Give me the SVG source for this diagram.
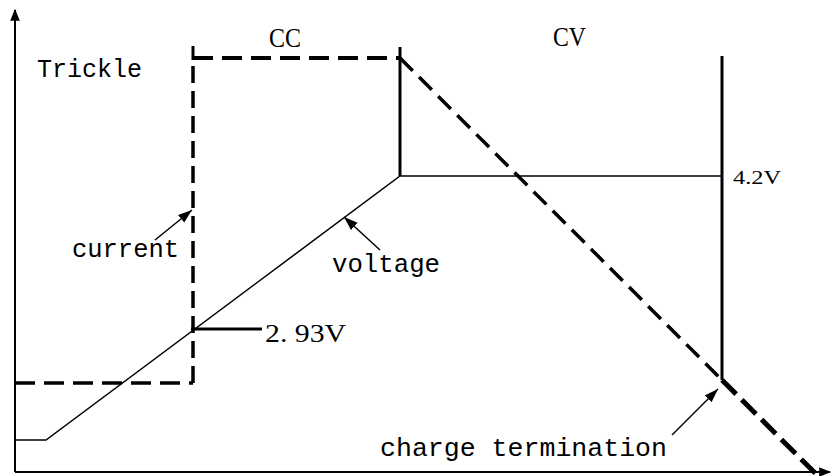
<svg xmlns="http://www.w3.org/2000/svg" width="833" height="476" viewBox="0 0 833 476">
<style>
.axis{stroke:#000;stroke-width:2;fill:none}
.solid{stroke:#000;stroke-width:3;fill:none}
.thin{stroke:#000;stroke-width:1.5;fill:none}
.dash{stroke:#000;stroke-width:3.5;fill:none;stroke-dasharray:20 9}
.mono{font-family:"Liberation Mono","DejaVu Sans Mono",monospace;font-size:25px;fill:#000}
.serif{font-family:"Liberation Serif","DejaVu Serif",serif;fill:#000}
</style>
<defs>
<marker id="ah" viewBox="0 0 10 10" refX="9" refY="5" markerWidth="12" markerHeight="12" orient="auto" markerUnits="userSpaceOnUse">
<path d="M0,1 L10,5 L0,9 Z" fill="#000"/>
</marker>
<marker id="ptr" viewBox="0 0 10 10" refX="10" refY="5" markerWidth="14" markerHeight="14" orient="auto" markerUnits="userSpaceOnUse">
<path d="M0,1.5 L10,5 L0,8.5 Z" fill="#000"/>
</marker>
</defs>
<g id="axes">
<line class="axis" x1="15" y1="472" x2="15" y2="10" marker-end="url(#ah)"/>
<line class="axis" x1="15" y1="472" x2="830" y2="472" marker-end="url(#ah)"/>
</g>
<g id="current-curve">
<line class="dash" x1="15" y1="383" x2="193" y2="383"/>
<line class="dash" x1="193" y1="383" x2="193" y2="58" style="stroke-dasharray:17 8"/>
<line class="solid" x1="193" y1="46" x2="193" y2="60"/>
<line class="dash" x1="193" y1="58" x2="400" y2="58" style="stroke-width:4"/>
<line class="solid" x1="400" y1="47" x2="400" y2="176"/>
<line class="dash" x1="400" y1="58" x2="722" y2="380" style="stroke-width:3.5;stroke-dasharray:18 9"/>
<line class="dash" x1="722" y1="380" x2="816" y2="474" style="stroke-width:5;stroke-dasharray:20 8"/>
</g>
<g id="voltage-curve">
<polyline class="thin" points="15,440 46,440 400,176 722,176"/>
<line class="solid" x1="722" y1="56" x2="722" y2="380"/>
<line class="solid" x1="191" y1="329" x2="262" y2="329"/>
</g>
<g id="labels">
<text class="mono" x="37" y="77">Trickle</text>
<text class="serif" x="269" y="47" font-size="27" textLength="32" lengthAdjust="spacingAndGlyphs">CC</text>
<text class="serif" x="553" y="46" font-size="27" textLength="33" lengthAdjust="spacingAndGlyphs">CV</text>
<text class="serif" x="733" y="184" font-size="19" textLength="48" lengthAdjust="spacingAndGlyphs">4.2V</text>
<text class="serif" x="265" y="342" font-size="26" textLength="81" lengthAdjust="spacingAndGlyphs">2. 93V</text>
<text class="mono" x="72" y="257" textLength="107" lengthAdjust="spacingAndGlyphs">current</text>
<text class="mono" x="332" y="272" textLength="108" lengthAdjust="spacingAndGlyphs">voltage</text>
<text class="mono" x="380" y="456" textLength="287" lengthAdjust="spacingAndGlyphs">charge termination</text>
</g>
<g id="connectors">
<line class="thin" x1="155" y1="240" x2="192" y2="210" marker-end="url(#ptr)"/>
<line class="thin" x1="380" y1="250" x2="344" y2="217" marker-end="url(#ptr)"/>
<line class="thin" x1="672" y1="435" x2="718" y2="389" marker-end="url(#ptr)"/>
</g>
</svg>
